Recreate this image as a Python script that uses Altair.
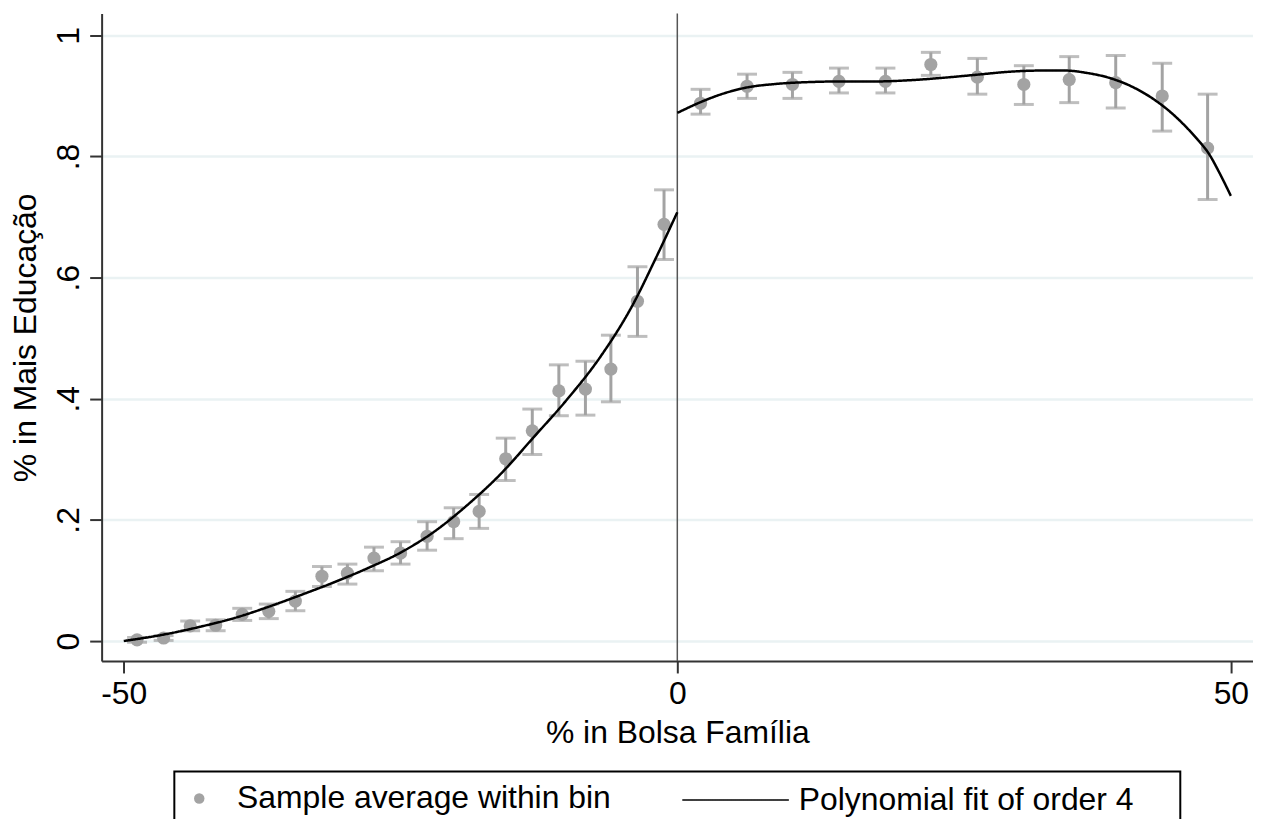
import altair as alt
import pandas as pd

# ---- data ----
left_x = [-48.8, -46.4, -44.0, -41.7, -39.3, -36.9, -34.5, -32.1, -29.8, -27.4, -25.0,
          -22.6, -20.2, -17.9, -15.5, -13.1, -10.7, -8.3, -6.0, -3.6, -1.2]
left_y = [0.002, 0.005, 0.025, 0.026, 0.044, 0.049, 0.066, 0.107, 0.112, 0.137, 0.145,
          0.173, 0.197, 0.214, 0.301, 0.347, 0.413, 0.416, 0.449, 0.561, 0.688]
left_lo = [-0.002, 0.001, 0.017, 0.017, 0.034, 0.037, 0.050, 0.090, 0.094, 0.116, 0.127,
           0.150, 0.169, 0.186, 0.265, 0.308, 0.372, 0.373, 0.395, 0.503, 0.630]
left_hi = [0.006, 0.009, 0.033, 0.035, 0.054, 0.061, 0.082, 0.123, 0.127, 0.155, 0.164,
           0.197, 0.220, 0.242, 0.335, 0.383, 0.456, 0.462, 0.505, 0.618, 0.745]

right_x = [2.1, 6.3, 10.4, 14.6, 18.8, 22.9, 27.1, 31.3, 35.4, 39.6, 43.8, 47.9]
right_y = [0.888, 0.916, 0.919, 0.924, 0.924, 0.952, 0.931, 0.919, 0.927, 0.922, 0.900, 0.814]
right_lo = [0.870, 0.896, 0.896, 0.905, 0.905, 0.934, 0.903, 0.886, 0.889, 0.880, 0.842, 0.729]
right_hi = [0.911, 0.936, 0.939, 0.946, 0.946, 0.972, 0.962, 0.950, 0.965, 0.967, 0.954, 0.903]

fit_left_x = [-50, -46, -43, -40, -37, -34, -31, -28, -25, -22, -19, -16, -13, -10, -7, -4, -2, 0]
fit_left_y = [0.000, 0.012, 0.024, 0.038, 0.056, 0.076, 0.097, 0.120, 0.146, 0.180, 0.224,
              0.275, 0.336, 0.398, 0.468, 0.556, 0.630, 0.708]
fit_right_x = [0, 2, 4, 6, 9, 12, 15, 18, 21, 24, 27, 30, 33, 35, 37, 39, 41, 43, 45, 46, 47, 48, 49, 50]
fit_right_y = [0.872, 0.889, 0.903, 0.913, 0.920, 0.923, 0.924, 0.924, 0.926, 0.930, 0.935, 0.940,
               0.942, 0.942, 0.938, 0.930, 0.916, 0.895, 0.866, 0.848, 0.828, 0.805, 0.772, 0.735]

cutoff = [0]
x_ticks = [-50, 0, 50]
y_ticks = [0, 0.2, 0.4, 0.6, 0.8, 1]
y_tick_labels = ["0", ".2", ".4", ".6", ".8", "1"]

series_points = "Sample average within bin"
series_fit = "Polynomial fit of order 4"

# ---- tables ----
pts = pd.DataFrame({
    "x": left_x + right_x,
    "y": left_y + right_y,
    "lo": left_lo + right_lo,
    "hi": left_hi + right_hi,
    "series": [series_points] * (len(left_x) + len(right_x)),
})
fit = pd.DataFrame({
    "x": fit_left_x + fit_right_x,
    "y": fit_left_y + fit_right_y,
    "side": ["left"] * len(fit_left_x) + ["right"] * len(fit_right_x),
    "fit": [series_fit] * (len(fit_left_x) + len(fit_right_x)),
})
cut = pd.DataFrame({"x": cutoff})
frame = pd.DataFrame({"k": [0]})

FONT = "Liberation Sans"
FS = 32
GRAY = "#a3a3a3"

label_map = "{" + ",".join(f"'{v}':'{l}'" for v, l in zip(y_ticks, y_tick_labels)) + "}"

xscale = alt.Scale(domain=[-52, 52], nice=False, zero=False)
yscale = alt.Scale(domain=[-0.033, 1.036], nice=False, zero=False)

xaxis = alt.Axis(values=x_ticks, title="% in Bolsa Família", grid=False,
                 labelExpr="toString(datum.value)",
                 labelFontSize=FS, titleFontSize=FS, labelFont=FONT, titleFont=FONT,
                 titleFontWeight="normal", labelColor="black", titleColor="black",
                 tickSize=12, tickWidth=2, tickColor="#333333",
                 domainColor="#333333", domainWidth=2, labelPadding=6, titlePadding=8)
yaxis = alt.Axis(values=y_ticks, title="% in Mais Educação", grid=True,
                 gridColor="#eaf2f3", gridWidth=2.5,
                 labelExpr=f"{label_map}[toString(datum.value)]",
                 labelAngle=-90, labelAlign="center", labelBaseline="bottom",
                 labelFontSize=FS, titleFontSize=FS, labelFont=FONT, titleFont=FONT,
                 titleFontWeight="normal", labelColor="black", titleColor="black",
                 tickSize=12, tickWidth=2, tickColor="#333333",
                 domainColor="#333333", domainWidth=2, labelPadding=4, titlePadding=10)

X = alt.X("x:Q", scale=xscale, axis=xaxis)

cut_line = alt.Chart(cut).mark_rule(color="#555555", strokeWidth=1.5).encode(x=X)

bars = alt.Chart(pts).mark_rule(color=GRAY, strokeWidth=3).encode(
    x=X, y=alt.Y("lo:Q", scale=yscale, axis=yaxis), y2="hi:Q")
cap_lo = alt.Chart(pts).mark_tick(color=GRAY, orient="horizontal", size=20, thickness=3).encode(
    x=X, y=alt.Y("lo:Q", scale=yscale, axis=yaxis))
cap_hi = alt.Chart(pts).mark_tick(color=GRAY, orient="horizontal", size=20, thickness=3).encode(
    x=X, y=alt.Y("hi:Q", scale=yscale, axis=yaxis))

points = alt.Chart(pts).mark_circle(size=175, opacity=1).encode(
    x=X, y=alt.Y("y:Q", scale=yscale, axis=yaxis),
    color=alt.Color("series:N", scale=alt.Scale(range=[GRAY]),
                    legend=alt.Legend(orient="none", legendX=82, legendY=772, title=None,
                                      symbolType="circle", symbolSize=110, symbolStrokeWidth=0,
                                      labelFontSize=FS, labelFont=FONT, labelColor="black",
                                      labelOffset=22, padding=0, labelLimit=1000)))

line = alt.Chart(fit).mark_line(color="black", strokeWidth=2.5, interpolate="monotone").encode(
    x=X, y=alt.Y("y:Q", scale=yscale, axis=yaxis), detail="side:N",
    strokeDash=alt.StrokeDash("fit:N", scale=alt.Scale(range=[[1, 0]]),
                              legend=alt.Legend(orient="none", legendX=582, legendY=735, title=None,
                                                symbolType="stroke", symbolSize=11449,
                                                symbolStrokeColor="black", symbolStrokeWidth=1.5,
                                                labelFontSize=FS, labelFont=FONT, labelColor="black",
                                                labelOffset=9, padding=0, labelLimit=1000)))

box = alt.Chart(frame).mark_rect(fillOpacity=0, stroke="black", strokeWidth=2).encode(
    x=alt.value(73), x2=alt.value(1083), y=alt.value(761), y2=alt.value(840))

chart = alt.layer(cut_line, bars, cap_lo, cap_hi, points, line, box).properties(
    width=1156, height=650,
    autosize=alt.AutoSizeParams(type="none"),
    padding={"left": 94, "top": 4, "right": 0, "bottom": 157},
    background="white",
).configure_view(stroke=None)

chart.save("out.html", embed_options={"renderer": "svg", "actions": False})
